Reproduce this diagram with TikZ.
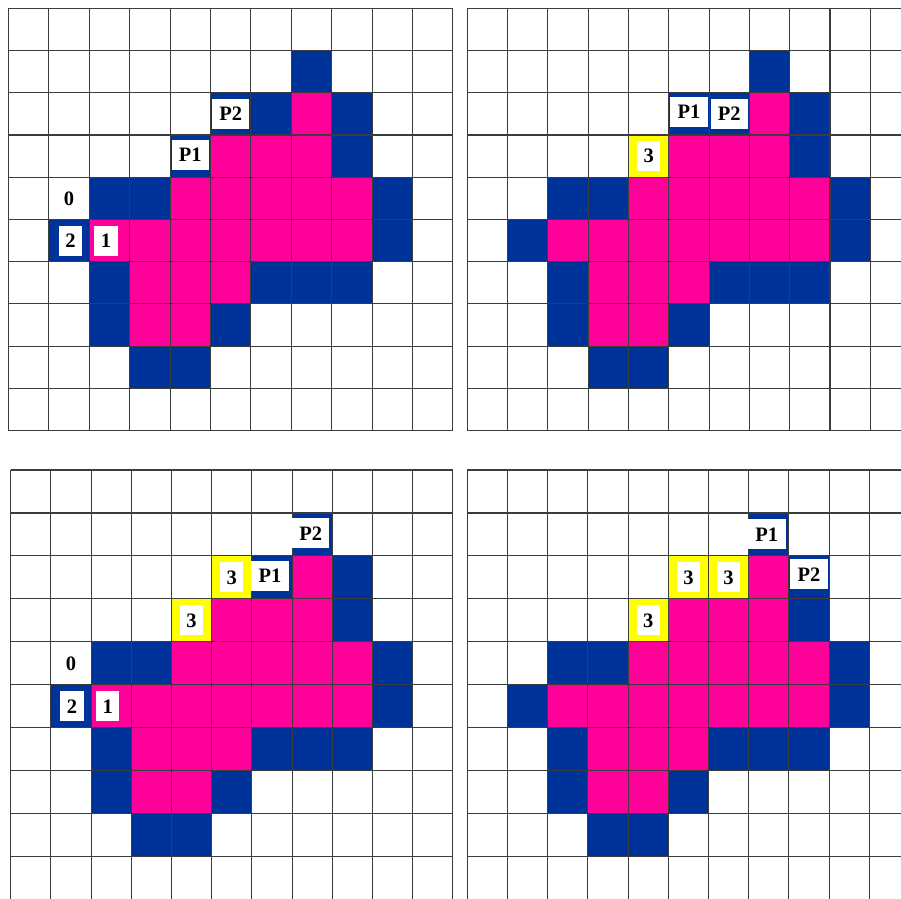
\documentclass[tikz,border=0pt]{standalone}
\usepackage{fontspec}
\setmainfont{Liberation Serif}
\definecolor{cblue}{RGB}{0,51,153}
\definecolor{cpink}{RGB}{255,0,153}
\definecolor{cyel}{RGB}{255,255,0}
\definecolor{cgrid}{RGB}{60,60,60}
\tikzset{
  gridline/.style={draw=cgrid, line width=1.1pt},
  lab/.style={fill=white, inner xsep=6.5pt, inner ysep=0pt, minimum height=30pt,
    font=\bfseries\fontsize{20.5}{20.5}\selectfont, text=black},
  plab/.style={lab, minimum width=37.5pt},
  plainlab/.style={inner sep=0pt, font=\bfseries\fontsize{20.5}{20.5}\selectfont, text=black},
  bluecell/.style={fill=cblue},
  pinkcell/.style={fill=cpink},
  yelcell/.style={fill=cyel},
}
\newcommand{\commonshape}{%
  \foreach \c/\r in {7/1,8/2,8/3,2/4,3/4,9/4,1/5,9/5,2/6,6/6,7/6,8/6,2/7,5/7,3/8,4/8}
    \fill[bluecell] (\c,\r) rectangle ++(1,1);
  \foreach \c/\r in {7/2,5/3,6/3,7/3,4/4,5/4,6/4,7/4,8/4,2/5,3/5,4/5,5/5,6/5,7/5,8/5,3/6,4/6,5/6,3/7,4/7}
    \fill[pinkcell] (\c,\r) rectangle ++(1,1);
}
\newcommand{\gridlines}{%
  \foreach \i in {0,...,11} \draw[gridline] (\i,0) -- (\i,10);
  \foreach \j in {0,...,10} \draw[gridline] (0,\j) -- (11,\j);
}
\begin{document}
\begin{tikzpicture}[x=1pt,y=-1pt]
\useasboundingbox (0,0) rectangle (901,898);
\clip (0,0) rectangle (901,898);
\fill[white] (0,0) rectangle (901,898);

% ---------- top left ----------
\begin{scope}[shift={(8.5,8.3)}, x=40.4pt, y=-42.23pt]
  \commonshape
  \foreach \c/\r in {6/2,5/2,4/3} \fill[bluecell] (\c,\r) rectangle ++(1,1);
  \gridlines
  \node[plainlab] (tl0) at (1.5,4.5) {0};
  \node[lab] (tl2) at ([xshift=1.5pt]1.5,5.5) {2};
  \node[lab] (tl1) at ([xshift=-3.5pt]2.5,5.5) {1};
  \node[plab] (tlp1) at ([yshift=1pt]4.5,3.5) {P1};
  \node[plab] (tlp2) at (5.5,2.5) {P2};
\end{scope}

% ---------- top right ----------
\begin{scope}[shift={(467.3,8.3)}, x=40.3pt, y=-42.23pt]
  \commonshape
  \foreach \c/\r in {6/2,5/2} \fill[bluecell] (\c,\r) rectangle ++(1,1);
  \fill[yelcell] (4,3) rectangle ++(1,1);
  \gridlines
  \node[lab] (tr3) at (4.5,3.5) {3};
  \node[plab] (trp1) at ([yshift=2pt]5.5,2.5) {P1};
  \node[plab] (trp2) at (6.5,2.5) {P2};
\end{scope}

% ---------- bottom left ----------
\begin{scope}[shift={(10.7,470)}, x=40.2pt, y=-42.95pt]
  \commonshape
  \fill[bluecell] (6,2) rectangle ++(1,1);
  \foreach \c/\r in {5/2,4/3} \fill[yelcell] (\c,\r) rectangle ++(1,1);
  \gridlines
  \node[plainlab] (bl0) at (1.5,4.5) {0};
  \node[lab] (bl2) at ([xshift=1pt]1.5,5.5) {2};
  \node[lab] (bl1) at ([xshift=-3.5pt]2.5,5.5) {1};
  \node[lab] (bl3a) at (4.5,3.5) {3};
  \node[lab] (bl3b) at (5.5,2.5) {3};
  \node[plab] (blp1) at ([xshift=-2pt,yshift=1.5pt]6.5,2.5) {P1};
  \node[plab] (blp2) at ([xshift=-1.5pt,yshift=1pt]7.5,1.5) {P2};
\end{scope}

% ---------- bottom right ----------
\begin{scope}[shift={(467.3,470)}, x=40.2pt, y=-42.95pt]
  \commonshape
  \foreach \c/\r in {5/2,6/2,4/3} \fill[yelcell] (\c,\r) rectangle ++(1,1);
  \gridlines
  \node[lab] (br3a) at (4.5,3.5) {3};
  \node[lab] (br3b) at (5.5,2.5) {3};
  \node[lab] (br3c) at (6.5,2.5) {3};
  \node[plab] (brp1) at ([xshift=-2pt]7.5,1.5) {P1};
  \node[plab] (brp2) at ([yshift=3pt]8.5,2.5) {P2};
\end{scope}
\end{tikzpicture}
\end{document}
